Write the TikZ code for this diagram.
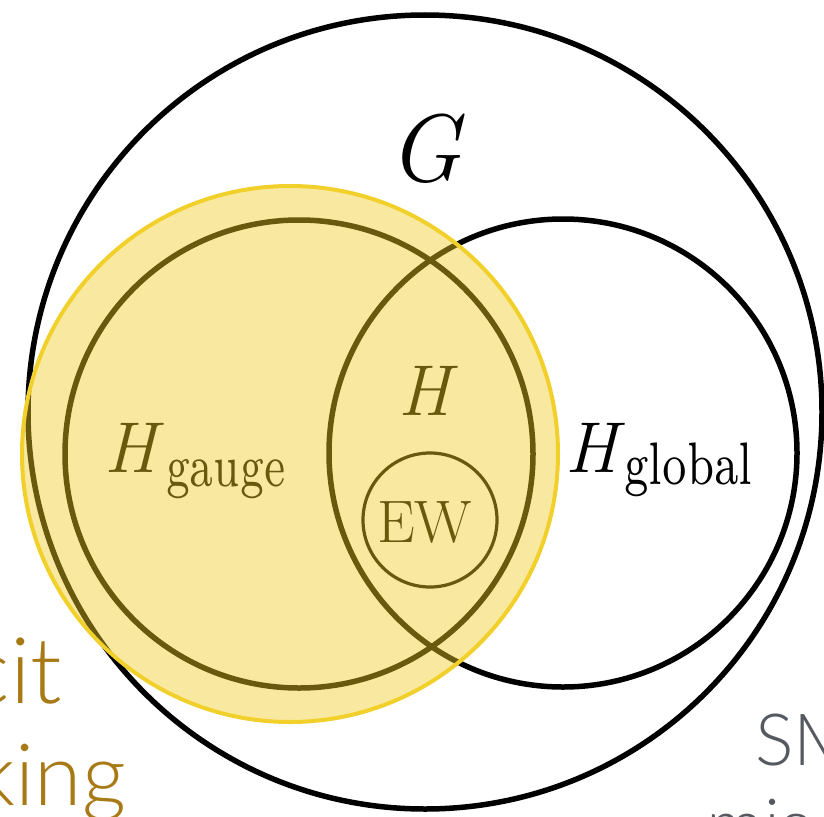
\documentclass[tikz,border=0pt]{standalone}
\usepackage{fontspec}
\usepackage{graphicx}
\newfontfamily\lightsans{Lato Light}
\newfontfamily\lmsev{lmroman7-regular}[Extension=.otf]
\definecolor{ovl}{RGB}{241,203,36}
\definecolor{ovlline}{RGB}{242,208,44}
\definecolor{ochre}{RGB}{168,122,22}
\definecolor{smgray}{RGB}{85,90,96}
\tikzset{
  setring/.style={draw=black, line width=5.5pt},
  ewring/.style={draw=black, line width=3.2pt},
  lbl/.style={inner sep=0pt, outer sep=0pt, anchor=base west},
  sidetext/.style={inner sep=0pt, outer sep=0pt, anchor=base east, font=\lightsans\fontsize{92}{92}\selectfont}
}
\begin{document}
\begin{tikzpicture}[x=1pt,y=-1pt]
\useasboundingbox (0,0) rectangle (824,816);
\clip (0,0) rectangle (824,816);
% rings
\node[setring, circle, minimum size=794pt, inner sep=0pt] (G) at (425,412) {};
\node[setring, circle, minimum size=468pt, inner sep=0pt] (Hg) at (299,454) {};
\node[setring, circle, minimum size=468pt, inner sep=0pt] (Hl) at (563,453) {};
\node[ewring, circle, minimum size=134pt, inner sep=0pt] (EWc) at (430,520) {};
% labels
\node[lbl, font=\fontsize{96}{96}\selectfont\itshape] (Glbl) at (388,181) {G};
\node[lbl, font=\fontsize{72}{72}\selectfont\itshape] (Hlbl) at (398,415) {H};
\node[lbl, font=\fontsize{72}{72}\selectfont\itshape] (Hgl) at (104,472) {H};
\node[lbl] (Hgsub) at (166,486) {\scalebox{0.7}[1]{\lmsev\fontsize{60}{60}\selectfont gauge}};
\node[lbl, font=\fontsize{72}{72}\selectfont\itshape] (Hll) at (565,472) {H};
\node[lbl] (Hlsub) at (624,484) {\scalebox{0.72}[1]{\lmsev\fontsize{60}{60}\selectfont global}};
\node[lbl, font=\fontsize{60}{60}\selectfont] (EW) at (377,542) {EW};
% yellow overlay
\fill[ovl, fill opacity=0.44] (290,454) circle[radius=268];
\node[draw=ovlline, line width=4pt, circle, minimum size=536pt, inner sep=0pt] (Y) at (290,454) {};
% side texts
\node[sidetext, text=ochre] (cit) at (62,703) {cit};
\node[sidetext, text=ochre, font=\lightsans\fontsize{86}{86}\selectfont] (king) at (126,805) {king};
\node[inner sep=0pt, anchor=base west, text=smgray, font=\lightsans\fontsize{72}{72}\selectfont] (SM) at (755,765) {SM};
\node[inner sep=0pt, anchor=base west, text=smgray, font=\lightsans\fontsize{72}{72}\selectfont] (mis) at (706,850) {mis};
\end{tikzpicture}
\end{document}
